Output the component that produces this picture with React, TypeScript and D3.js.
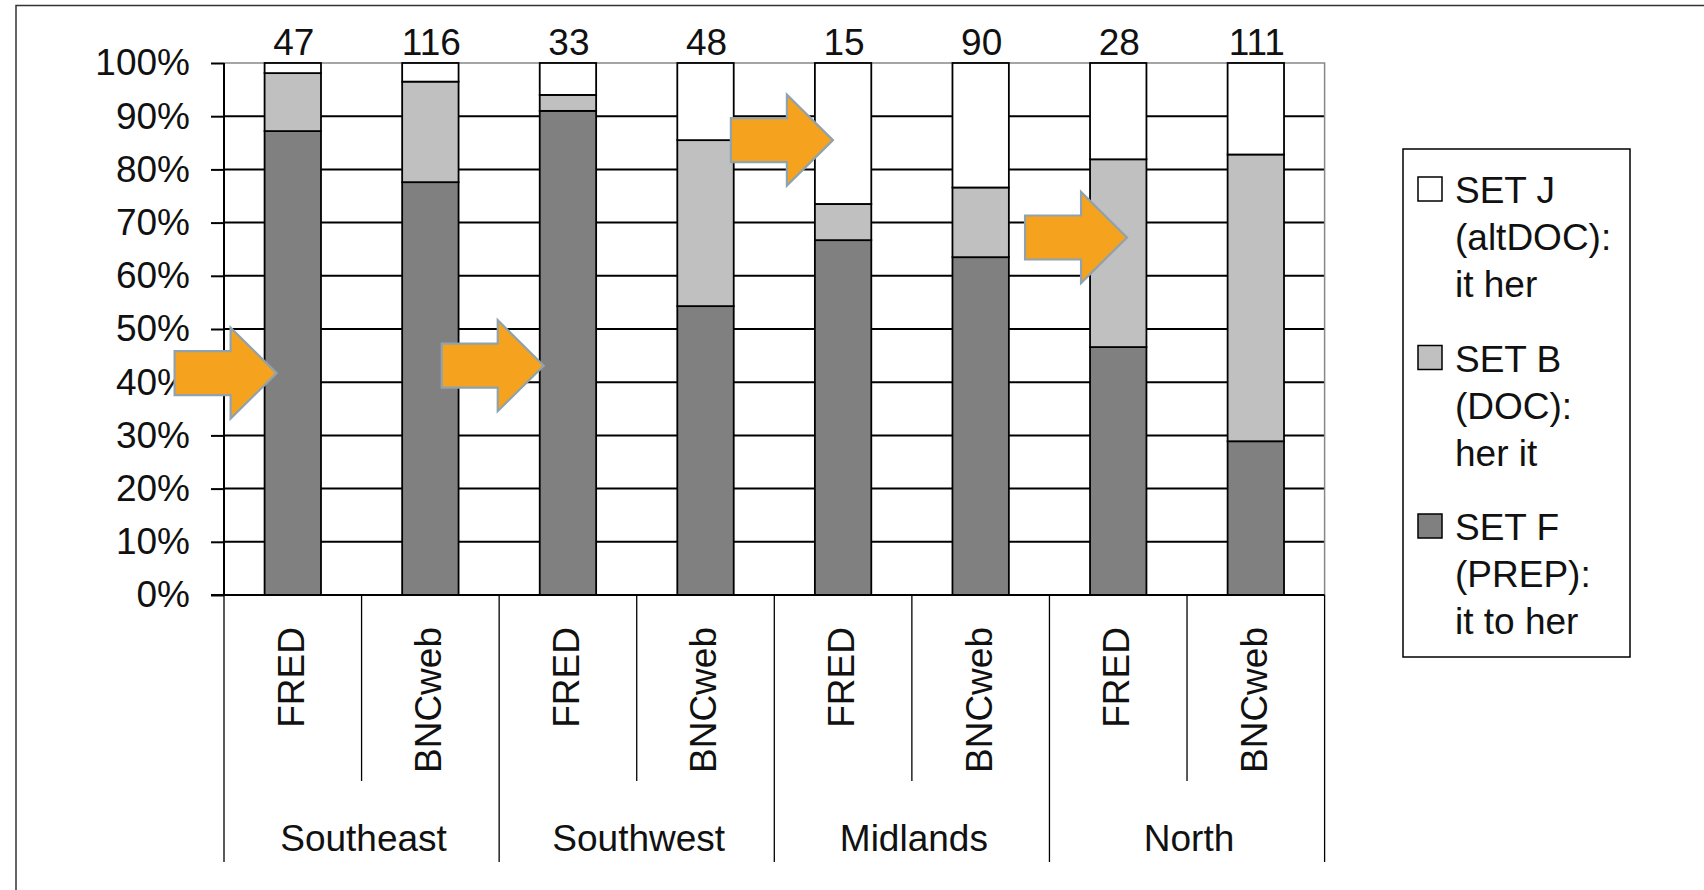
import React, { useRef, useEffect } from 'react';
import * as d3 from 'd3';

// Regions (outer category level) and sources (inner level)
const regions = ['Southeast', 'Southwest', 'Midlands', 'North'];
const sources = ['FRED', 'BNCweb'];

// Number of tokens per bar (shown above bars)
const totals = [47, 116, 33, 48, 15, 90, 28, 111];

// Percentages, per bar
const setF = [87.2, 77.6, 91.0, 54.3, 66.7, 63.5, 46.6, 28.9];
const setB = [10.9, 18.9, 3.0, 31.2, 6.8, 13.1, 35.3, 53.9];
const setJ = [1.9, 3.5, 6.0, 14.5, 26.5, 23.4, 18.1, 17.2];

const yTicks = [0, 10, 20, 30, 40, 50, 60, 70, 80, 90, 100];

const legendItems = [
  { key: 'J', lines: ['SET J', '(altDOC):', 'it her'], color: '#ffffff' },
  { key: 'B', lines: ['SET B', '(DOC):', 'her it'], color: '#c0c0c0' },
  { key: 'F', lines: ['SET F', '(PREP):', 'it to her'], color: '#808080' },
];

// Orange arrow annotations: bar index, value at the tip, offset from bar's left edge
const arrows = [
  { bar: 0, y: 41.7, dx: 12 },
  { bar: 2, y: 43.1, dx: 4 },
  { bar: 4, y: 85.5, dx: 18 },
  { bar: 6, y: 67.2, dx: 37 },
];

const colors: Record<string, string> = { F: '#808080', B: '#c0c0c0', J: '#ffffff' };
const FONT = '"Liberation Sans", Arial, sans-serif';

export default function App() {
  const svgRef = useRef<SVGSVGElement>(null);
  const width = 1704;
  const height = 890;

  useEffect(() => {
    const svg = d3.select(svgRef.current);
    svg.selectAll('*').remove();

    const left = 224;
    const right = 1324.6;
    const top = 63;
    const bottom = 595;

    const rows = totals.map((t, i) => ({ i, F: setF[i], B: setB[i], J: setJ[i] }));
    const stack = d3.stack<any>().keys(['F', 'B', 'J'])(rows);

    const x = d3.scaleBand<number>()
      .domain(d3.range(totals.length))
      .range([left, right])
      .paddingInner(0.59)
      .paddingOuter(0.295);
    const step = (right - left) / totals.length;

    const xRegion = d3.scaleBand<string>().domain(regions).range([left, right]);

    const y = d3.scaleLinear().domain([0, 100]).range([bottom, top]);

    svg.append('rect').attr('width', width).attr('height', height).attr('fill', '#fff');

    // Outer frame (left and top edges)
    svg.append('path')
      .attr('d', `M16,${height} V5.5 H${width}`)
      .attr('fill', 'none')
      .attr('stroke', '#333')
      .attr('stroke-width', 1.5);

    // Gridlines
    svg.append('g')
      .selectAll('line')
      .data(yTicks.filter(d => d > 0 && d < 100))
      .enter()
      .append('line')
      .attr('x1', left).attr('x2', right)
      .attr('y1', d => y(d)).attr('y2', d => y(d))
      .attr('stroke', '#000')
      .attr('stroke-width', 2);

    // Plot area top / right border
    svg.append('path')
      .attr('d', `M${left},${y(100)} H${right} V${bottom}`)
      .attr('fill', 'none')
      .attr('stroke', '#888')
      .attr('stroke-width', 1.5);

    // Stacked bars
    svg.append('g')
      .selectAll('g')
      .data(stack)
      .enter()
      .append('g')
      .attr('fill', d => colors[d.key])
      .selectAll('rect')
      .data(d => d)
      .enter()
      .append('rect')
      .attr('x', (d: any) => x(d.data.i)!)
      .attr('width', x.bandwidth())
      .attr('y', d => y(d[1]))
      .attr('height', d => y(d[0]) - y(d[1]))
      .attr('stroke', '#000')
      .attr('stroke-width', 1.8);

    // Y axis
    const yAxis = svg.append('g')
      .attr('transform', `translate(${left},0)`)
      .call(d3.axisLeft(y).tickValues(yTicks).tickSize(13).tickPadding(21).tickFormat(d => `${d}%`));
    yAxis.select('.domain').attr('stroke', '#000').attr('stroke-width', 2).attr('d', `M0,${top}V${bottom}`);
    yAxis.selectAll('.tick line').attr('stroke', '#000').attr('stroke-width', 2);
    yAxis.selectAll('.tick text')
      .attr('fill', '#111')
      .style('font-family', FONT)
      .style('font-size', '37px');

    // X axis baseline
    svg.append('line')
      .attr('x1', left - 13).attr('x2', right)
      .attr('y1', bottom).attr('y2', bottom)
      .attr('stroke', '#000').attr('stroke-width', 2);

    // Category axis separators
    const xAxisG = svg.append('g').attr('stroke', '#000').attr('stroke-width', 1.3);
    d3.range(totals.length + 1).forEach(k => {
      const xx = left + k * step;
      const isRegion = k % sources.length === 0;
      xAxisG.append('line')
        .attr('x1', xx).attr('x2', xx)
        .attr('y1', bottom).attr('y2', isRegion ? 862 : 781);
    });

    // Source labels (rotated)
    svg.append('g')
      .selectAll('text')
      .data(totals.map((t, i) => i))
      .enter()
      .append('text')
      .attr('transform', i => `translate(${x(i)! + x.bandwidth() / 2 - 2},627) rotate(-90)`)
      .attr('text-anchor', 'end')
      .attr('dy', '0.35em')
      .style('font-family', FONT)
      .style('font-size', '37px')
      .attr('fill', '#111')
      .text(i => sources[i % sources.length]);

    // Region labels
    svg.append('g')
      .selectAll('text')
      .data(regions)
      .enter()
      .append('text')
      .attr('x', d => xRegion(d)! + xRegion.bandwidth() / 2 + 2)
      .attr('y', 851)
      .attr('text-anchor', 'middle')
      .style('font-family', FONT)
      .style('font-size', '37px')
      .attr('fill', '#111')
      .text(d => d);

    // Totals above bars
    svg.append('g')
      .selectAll('text')
      .data(totals)
      .enter()
      .append('text')
      .attr('x', (d, i) => x(i)! + x.bandwidth() / 2 + 1)
      .attr('y', 55)
      .attr('text-anchor', 'middle')
      .style('font-family', FONT)
      .style('font-size', '37px')
      .attr('fill', '#111')
      .text(d => d);

    // Orange arrows
    const arrowPath = 'M0,0 L-46,-45.5 L-46,-22 L-102,-22 L-102,22 L-46,22 L-46,45.5 Z';
    svg.append('g')
      .selectAll('path')
      .data(arrows)
      .enter()
      .append('path')
      .attr('transform', d => `translate(${x(d.bar)! + d.dx},${y(d.y)})`)
      .attr('d', arrowPath)
      .attr('fill', '#f5a31e')
      .attr('stroke', '#8fa2ad')
      .attr('stroke-width', 2.2)
      .attr('stroke-linejoin', 'miter');

    // Legend
    const lg = svg.append('g');
    lg.append('rect')
      .attr('x', 1403).attr('y', 149)
      .attr('width', 227).attr('height', 508)
      .attr('fill', '#fff')
      .attr('stroke', '#000')
      .attr('stroke-width', 1.5);

    legendItems.forEach((item, k) => {
      const base = 203 + k * 168.5;
      lg.append('rect')
        .attr('x', 1418).attr('y', base - 26)
        .attr('width', 24).attr('height', 24)
        .attr('fill', item.color)
        .attr('stroke', '#000')
        .attr('stroke-width', 1.5);
      item.lines.forEach((line, j) => {
        lg.append('text')
          .attr('x', 1455)
          .attr('y', base + j * 47)
          .style('font-family', FONT)
          .style('font-size', '37px')
          .attr('fill', '#111')
          .text(line);
      });
    });
  }, []);

  return (
    <svg
      ref={svgRef}
      width={width}
      height={height}
      style={{ position: 'absolute', left: 0, top: 0, display: 'block' }}
    />
  );
}
